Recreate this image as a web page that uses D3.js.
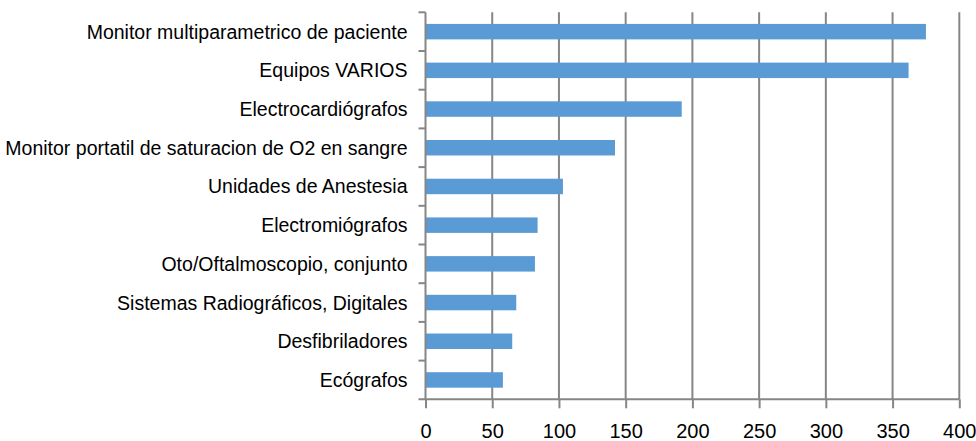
<!DOCTYPE html>
<html>
<head>
<meta charset="utf-8">
<script src="https://cdn.jsdelivr.net/npm/d3@7"></script>
<style>
  body { margin: 0; background: #fff; }
  .c-axis text { font-family: "Liberation Sans", Arial, sans-serif; fill: #000; }
</style>
</head>
<body>
<div id="chart"></div>
<script>
// categories top to bottom
const categories = [
  'Monitor multiparametrico de paciente',
  'Equipos VARIOS',
  'Electrocardiógrafos',
  'Monitor portatil de saturacion de O2 en sangre',
  'Unidades de Anestesia',
  'Electromiógrafos',
  'Oto/Oftalmoscopio, conjunto',
  'Sistemas Radiográficos, Digitales',
  'Desfibriladores',
  'Ecógrafos'
];
const counts = [375, 362, 192, 142, 103, 84, 82, 68, 65, 58];
const xTicks = [0, 50, 100, 150, 200, 250, 300, 350, 400];

const chartWidth = 976;
const chartHeight = 441;
const plotLeft = 425.5, plotRight = 959.3, plotTop = 12.3, plotBottom = 399.3;
const gridColor = '#868686';

const svg = d3.select('#chart')
  .append('svg')
  .attr('width', chartWidth)
  .attr('height', chartHeight);

const xScale = d3.scaleLinear().domain([0, 400]).range([plotLeft, plotRight]);
const yScale = d3.scaleBand()
  .domain(categories)
  .range([plotTop, plotBottom])
  .paddingInner(0.6)
  .paddingOuter(0.3);

// vertical gridlines
svg.append('g')
  .selectAll('line')
  .data(xTicks.slice(1))
  .join('line')
  .attr('x1', d => xScale(d))
  .attr('x2', d => xScale(d))
  .attr('y1', plotTop)
  .attr('y2', plotBottom)
  .attr('stroke', gridColor)
  .attr('stroke-width', 2);

// bars
svg.append('g')
  .selectAll('rect')
  .data(categories)
  .join('rect')
  .attr('x', xScale(0))
  .attr('y', d => yScale(d))
  .attr('width', (d, i) => xScale(counts[i]) - xScale(0))
  .attr('height', yScale.bandwidth())
  .attr('fill', '#5B9BD5');

// bottom axis
const xAxis = d3.axisBottom(xScale).tickValues(xTicks).tickSize(9).tickPadding(0);
const gx = svg.append('g')
  .attr('class', 'c-axis')
  .attr('transform', 'translate(0,' + plotBottom + ')')
  .call(xAxis);
gx.select('.domain').attr('d', 'M' + (plotLeft - 7) + ',0H' + plotRight).attr('stroke', gridColor).attr('stroke-width', 2);
gx.selectAll('.tick line').attr('stroke', gridColor).attr('stroke-width', 2);
gx.selectAll('.tick text')
  .attr('y', 39)
  .attr('dy', null)
  .style('font-size', '20px');

// left axis: ticks sit on band boundaries
const gy = svg.append('g')
  .attr('class', 'c-axis')
  .attr('transform', 'translate(' + plotLeft + ',0)');
gy.append('line')
  .attr('y1', plotTop).attr('y2', plotBottom)
  .attr('stroke', gridColor).attr('stroke-width', 2);
const step = yScale.step();
gy.selectAll('line.tk')
  .data(d3.range(categories.length))
  .join('line')
  .attr('class', 'tk')
  .attr('x1', -7).attr('x2', 0)
  .attr('y1', i => plotTop + i * step)
  .attr('y2', i => plotTop + i * step)
  .attr('stroke', gridColor).attr('stroke-width', 2);
gy.selectAll('text')
  .data(categories)
  .join('text')
  .attr('x', -18)
  .attr('y', d => yScale(d) + yScale.bandwidth() / 2)
  .attr('dy', '0.36em')
  .attr('text-anchor', 'end')
  .style('font-size', '19.5px')
  .text(d => d);
</script>
</body>
</html>
